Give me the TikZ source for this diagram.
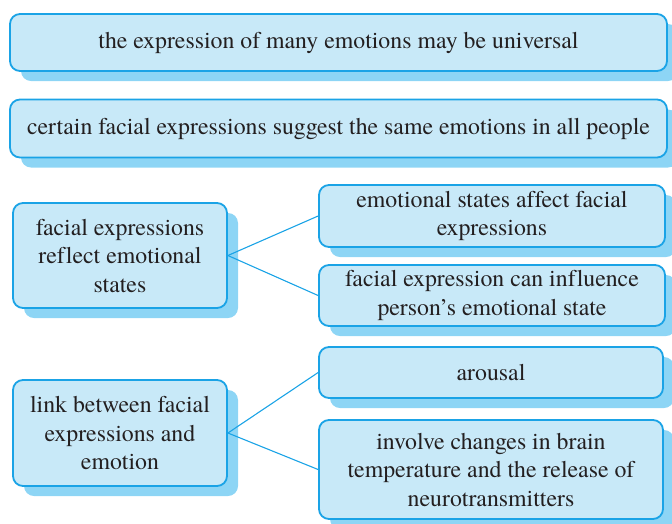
\documentclass[tikz,border=0pt]{standalone}
\usepackage{fontspec}
\setmainfont{texgyretermes}[Extension=.otf, UprightFont=*-regular, BoldFont=*-bold, ItalicFont=*-italic, BoldItalicFont=*-bolditalic, Ligatures=CommonOff]
\usetikzlibrary{shadows}
\definecolor{bord}{HTML}{1AA3E6}
\definecolor{boxfill}{HTML}{C8E9F8}
\definecolor{shad}{HTML}{8DD5F5}
\definecolor{ink}{HTML}{231F20}
\begin{document}
\begin{tikzpicture}[x=1pt,y=-1pt,
  box/.style={draw=bord, line width=1.8pt, fill=boxfill, rounded corners=10pt,
    align=center, inner sep=0pt, text=ink,
    font=\rmfamily\fontsize{23.8}{28.5}\selectfont,
    drop shadow={shadow xshift=11pt, shadow yshift=-10pt, fill=shad, opacity=1}},
  link/.style={draw=bord, line width=1.1pt}]
\useasboundingbox (0,0) rectangle (672,523);
\node[box, minimum width=657pt, minimum height=57pt] (b1) at (338.5,42.5)
  {the expression of many emotions may be universal};
\node[box, minimum width=657pt, minimum height=58pt] (b2) at (338.5,128.5)
  {certain facial expressions suggest the same emotions in all people};
\node[box, minimum width=214pt, minimum height=105pt] (b3) at (120,255.5)
  {facial expressions\\reflect emotional\\states};
\node[box, minimum width=346pt, minimum height=62pt] (b4) at (492,216)
  {emotional states affect facial\\expressions};
\node[box, minimum width=346pt, minimum height=61pt] (b5) at (492,295.5)
  {facial expression can influence\\person’s emotional state};
\node[box, minimum width=214pt, minimum height=106pt] (b6) at (120,433)
  {link between facial\\expressions and\\emotion};
\node[box, minimum width=344pt, minimum height=51pt] (b7) at (491,372.5)
  {arousal};
\node[box, minimum width=344pt, minimum height=99pt] (b8) at (491,469.5)
  {involve changes in brain\\temperature and the release of\\neurotransmitters};
\draw[link] (b3.east) -- (b4.west);
\draw[link] (b3.east) -- (b5.west);
\draw[link] (b6.east) -- (b7.west);
\draw[link] (b6.east) -- (b8.west);
\end{tikzpicture}
\end{document}
